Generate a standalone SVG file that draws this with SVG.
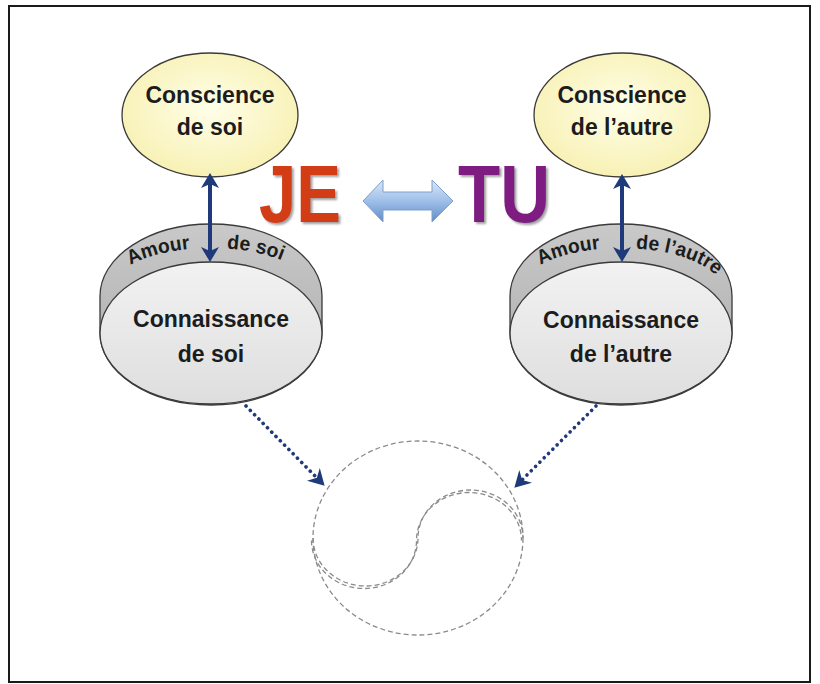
<svg xmlns="http://www.w3.org/2000/svg" width="820" height="684" viewBox="0 0 820 684">
<defs>
<style>
.lbl{font-family:"Liberation Sans",Arial,sans-serif;font-weight:bold;font-size:23px;fill:#1c1c1c;text-anchor:middle}
.arc{font-family:"Liberation Sans",Arial,sans-serif;font-weight:bold;font-size:20px;fill:#1c1c1c}
.big{font-family:"Liberation Sans",Arial,sans-serif;font-weight:bold;font-size:82px;filter:url(#sh)}
.oval{stroke:#3a3a3a;stroke-width:1.3}
.nav{stroke:#1e3a7b;stroke-width:4;fill:none}
.dot{stroke:#1e3a7b;stroke-width:3.6;fill:none;stroke-linecap:round;stroke-dasharray:0.1 6}
.dash{stroke:#8a8a8a;stroke-width:1.3;fill:none;stroke-dasharray:5 3}
</style>
<filter id="sh" x="-10%" y="-10%" width="130%" height="130%">
<feDropShadow dx="2" dy="2" stdDeviation="1.2" flood-color="#777" flood-opacity="0.7"/>
</filter>
<radialGradient id="gy" cx="50%" cy="45%" r="60%">
<stop offset="0" stop-color="#fffee8"/><stop offset="1" stop-color="#f7f0b0"/>
</radialGradient>
<linearGradient id="gf" x1="0" y1="0" x2="0" y2="1">
<stop offset="0" stop-color="#f2f2f2"/><stop offset="1" stop-color="#dedede"/>
</linearGradient>
<linearGradient id="gg" x1="0" y1="0" x2="0" y2="1">
<stop offset="0" stop-color="#c9c9c9"/><stop offset="1" stop-color="#a9a9a9"/>
</linearGradient>
<linearGradient id="gb" x1="0" y1="0" x2="0" y2="1">
<stop offset="0" stop-color="#dbe8f8"/><stop offset="0.5" stop-color="#9fbfe8"/><stop offset="1" stop-color="#5f8cc8"/>
</linearGradient>
<marker id="ah" markerUnits="userSpaceOnUse" markerWidth="20" markerHeight="20" viewBox="-10 -10 20 20" refX="0" refY="0" orient="auto-start-reverse">
<path d="M7,0 L-8,-9 L-4,0 L-8,9 Z" fill="#1e3a7b"/>
</marker>
<marker id="dh" markerUnits="userSpaceOnUse" markerWidth="24" markerHeight="24" viewBox="-12 -12 24 24" refX="0" refY="0" orient="auto">
<path d="M8,0 L-8,-9 L-3,0 L-8,9 Z" fill="#1e3a7b"/>
</marker>
<path id="tpl" d="M107,294 A104,46 0 0 1 315,294"/>
<path id="tpr" d="M517,294 A104,46 0 0 1 725,294"/>
</defs>
<rect x="0" y="0" width="820" height="684" fill="#ffffff"/>
<rect x="9" y="6" width="801" height="676" fill="none" stroke="#1a1a1a" stroke-width="2"/>

<g id="conscience-soi">
<ellipse class="oval" cx="210" cy="115" rx="88" ry="62" fill="url(#gy)"/>
<text class="lbl" x="210" y="103">Conscience</text>
<text class="lbl" x="210" y="135">de soi</text>
</g>
<g id="conscience-autre">
<ellipse class="oval" cx="622" cy="115" rx="88" ry="62" fill="url(#gy)"/>
<text class="lbl" x="622" y="103">Conscience</text>
<text class="lbl" x="622" y="135">de l’autre</text>
</g>

<g id="connaissance-soi">
<path class="oval" d="M100,296 A111,72 0 0 1 322,296 L322,333 A111,72 0 0 1 100,333 Z" fill="url(#gg)"/>
<ellipse class="oval" cx="211" cy="333" rx="111" ry="71" fill="url(#gf)"/>
<text class="arc"><textPath href="#tpl" startOffset="39" textLength="62" lengthAdjust="spacingAndGlyphs">Amour</textPath></text>
<text class="arc"><textPath href="#tpl" startOffset="138" textLength="56" lengthAdjust="spacingAndGlyphs">de soi</textPath></text>
<text class="lbl" x="211" y="327">Connaissance</text>
<text class="lbl" x="211" y="362">de soi</text>
</g>
<g id="connaissance-autre">
<path class="oval" d="M510,296 A111,72 0 0 1 732,296 L732,333 A111,72 0 0 1 510,333 Z" fill="url(#gg)"/>
<ellipse class="oval" cx="621" cy="333" rx="111" ry="71" fill="url(#gf)"/>
<text class="arc"><textPath href="#tpr" startOffset="39" textLength="62" lengthAdjust="spacingAndGlyphs">Amour</textPath></text>
<text class="arc"><textPath href="#tpr" startOffset="137" textLength="86" lengthAdjust="spacingAndGlyphs">de l’autre</textPath></text>
<text class="lbl" x="621" y="328">Connaissance</text>
<text class="lbl" x="621" y="362">de l’autre</text>
</g>

<g id="je">
<text class="big" x="259" y="222" textLength="82" lengthAdjust="spacingAndGlyphs" fill="#d33c16">JE</text>
</g>
<g id="tu">
<text class="big" x="458" y="222" textLength="92" lengthAdjust="spacingAndGlyphs" fill="#7e1a82">TU</text>
</g>

<g id="yin-yang">
<ellipse class="dash" cx="418" cy="538" rx="105" ry="97"/>
<path class="dash" d="M313,538 A52.5,48 0 0 0 418,538 A52.5,48 0 0 1 523,538"/>
<path class="dash" d="M313,538 A52.5,48 0 0 0 418,538 A52.5,48 0 0 1 523,538" transform="translate(-1.5,2.5)"/>
</g>

<g id="connectors">
<path d="M363,201 L383,180 L383,192 L432,192 L432,180 L453,201 L432,222 L432,210 L383,210 L383,222 Z" fill="url(#gb)" stroke="#7f9fcc" stroke-width="1"/>
<line class="nav" x1="210" y1="180" x2="210" y2="255" marker-start="url(#ah)" marker-end="url(#ah)"/>
<line class="nav" x1="622" y1="181" x2="622" y2="255" marker-start="url(#ah)" marker-end="url(#ah)"/>
<line class="dot" x1="246" y1="406" x2="319" y2="480" marker-end="url(#dh)"/>
<line class="dot" x1="596" y1="406" x2="520" y2="482" marker-end="url(#dh)"/>
</g>
</svg>
